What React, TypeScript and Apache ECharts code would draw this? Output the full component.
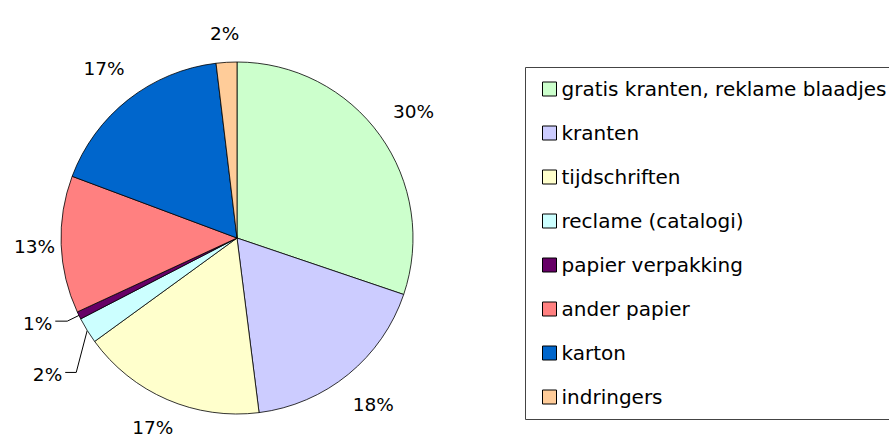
import React, { useEffect, useRef } from "react";
import * as echarts from "echarts";

const categories = [
  "gratis kranten, reklame blaadjes",
  "kranten",
  "tijdschriften",
  "reclame (catalogi)",
  "papier verpakking",
  "ander papier",
  "karton",
  "indringers",
];
const values = [30.2, 17.8, 17.0, 2.4, 0.7, 12.6, 17.4, 1.9];
const colors = ["#CCFFCC", "#CCCCFF", "#FFFFCC", "#CCFFFF", "#660066", "#FF8080", "#0066CC", "#FFCC99"];

// leader-line offsets (styling), by data index
const leaders: Record<number, { seg1: [number, number] | null; seg2: number }> = {
  3: { seg1: [-11, 42], seg2: 11 },
  4: { seg1: null, seg2: 12 },
};

const CX = 237;
const CY = 238;
const RADIUS = 176;
const GAP = 19;
const FONT = "'Comic Sans MS', 'DejaVu Sans', sans-serif";

export default function App() {
  const ref = useRef<HTMLDivElement>(null);
  useEffect(() => {
    if (!ref.current) return;
    const chart = echarts.init(ref.current, undefined, { renderer: "svg" });
    const total = values.reduce((a, b) => a + b, 0);
    const midDir = (i: number) => {
      let cum = 0;
      for (let k = 0; k < i; k++) cum += values[k];
      cum += values[i] / 2;
      const ang = ((90 - (cum / total) * 360) * Math.PI) / 180;
      return [Math.cos(ang), -Math.sin(ang)];
    };
    chart.setOption({
      animation: false,
      backgroundColor: "#fff",
      graphic: [
        {
          type: "rect",
          z: -1,
          shape: { x: 525.5, y: 67.5, width: 420, height: 352 },
          style: { fill: "#fff", stroke: "#444", lineWidth: 1 },
        },
      ],
      legend: {
        orient: "vertical",
        left: 542,
        top: 79,
        padding: 0,
        itemWidth: 14,
        itemHeight: 14,
        itemGap: 24,
        icon: "rect",
        itemStyle: { borderColor: "#000", borderWidth: 1 },
        textStyle: { fontFamily: FONT, fontSize: 20, lineHeight: 20, color: "#000", padding: [0, 0, 0, 0] },
        data: categories,
        selectedMode: false,
      },
      series: [
        {
          type: "pie",
          center: [CX, CY],
          radius: RADIUS,
          startAngle: 90,
          clockwise: true,
          silent: true,
          percentPrecision: 0,
          itemStyle: { borderColor: "#000", borderWidth: 0.8 },
          label: {
            show: true,
            position: "outside",
            formatter: "{d}%",
            fontFamily: FONT,
            fontSize: 18.5,
            color: "#000",
            overflow: "none",
            edgeDistance: 0,
          },
          labelLine: { show: true, length: 13, length2: 12, lineStyle: { color: "#000", width: 1 } },
          labelLayout: (params: any) => {
            const i = params.dataIndex;
            const [dx, dy] = midDir(i);
            const w = params.labelRect.width;
            const h = params.labelRect.height;
            const ld = leaders[i];
            if (ld) {
              const p0 = [CX + dx * RADIUS, CY + dy * RADIUS];
              const p1 = ld.seg1 ? [p0[0] + ld.seg1[0], p0[1] + ld.seg1[1]] : [p0[0] + dx * 13, p0[1] + dy * 13];
              const p2 = [p1[0] - ld.seg2, p1[1]];
              return {
                x: p2[0] - 3,
                y: p2[1] + 2,
                align: "right",
                verticalAlign: "middle",
                labelLinePoints: [p0, p1, p2],
              };
            }
            const R = RADIUS + GAP + (Math.abs(dx) * w) / 2 + (Math.abs(dy) * h) / 2;
            let x = CX + dx * R;
            let y = CY + dy * R;
            x = Math.max(x, w / 2 + 14);
            y = Math.min(y, 437 - h / 2);
            return { x, y, align: "center", verticalAlign: "middle" };
          },
          data: categories.map((name, i) => ({
            name,
            value: values[i],
            itemStyle: { color: colors[i] },
            labelLine: leaders[i] ? { show: true } : { show: false },
          })),
        },
      ],
    });
    return () => chart.dispose();
  }, []);
  return <div ref={ref} style={{ position: "fixed", left: 0, top: 0, width: 889, height: 437 }} />;
}
